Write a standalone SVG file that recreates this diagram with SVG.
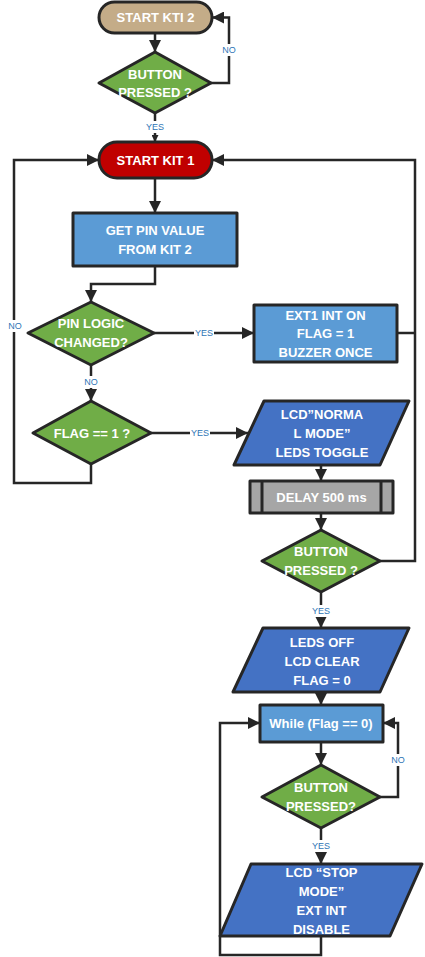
<svg xmlns="http://www.w3.org/2000/svg" width="425" height="957" viewBox="0 0 425 957">
<style>
.shape{stroke:#262626;stroke-width:3;stroke-linejoin:round}
.term{fill:#C4AC88}
.red{fill:#C00000}
.box{fill:#5B9BD5}
.para{fill:#4472C4}
.dia{fill:#70AD47}
.grey{fill:#A6A6A6}
.t{font-family:"Liberation Sans",Arial,sans-serif;font-weight:bold;font-size:13px;fill:#fff;text-anchor:middle}
.conn{fill:none;stroke:#262626;stroke-width:2.5;stroke-linejoin:miter}
.lbl{font-family:"Liberation Sans",Arial,sans-serif;font-size:9px;fill:#2E75B6;text-anchor:middle}
.lblbg{fill:#fff}
</style>
<defs>
<marker id="ah" markerUnits="userSpaceOnUse" markerWidth="12" markerHeight="12" refX="12" refY="6" orient="auto">
<path d="M0,0 L12,6 L0,12 z" fill="#262626"/>
</marker>
<marker id="ahs" markerUnits="userSpaceOnUse" markerWidth="7" markerHeight="7" refX="7" refY="3.5" orient="auto">
<path d="M0,0 L7,3.5 L0,7 z" fill="#262626"/>
</marker>
</defs>
<g id="connectors">
<path class="conn" d="M155,33 V52" marker-end="url(#ah)"/>
<path class="conn" d="M211,83 H229 V17.5 H212" marker-end="url(#ah)"/>
<path class="conn" d="M155,113 V142" marker-end="url(#ahs)"/>
<path class="conn" d="M155,178 V213" marker-end="url(#ah)"/>
<path class="conn" d="M155,266 V284 H91 V302" marker-end="url(#ah)"/>
<path class="conn" d="M154,333 H254" marker-end="url(#ah)"/>
<path class="conn" d="M397,333 H415"/>
<path class="conn" d="M380,561 H415 V160 H212" marker-end="url(#ah)"/>
<path class="conn" d="M91,365 V401" marker-end="url(#ah)"/>
<path class="conn" d="M151,433 H248" marker-end="url(#ah)"/>
<path class="conn" d="M91,464 V483 H14 V160 H99" marker-end="url(#ah)"/>
<path class="conn" d="M321,465 V481" marker-end="url(#ah)"/>
<path class="conn" d="M321,513 V530" marker-end="url(#ah)"/>
<path class="conn" d="M321,592 V628" marker-end="url(#ah)"/>
<path class="conn" d="M321,692 V705" marker-end="url(#ah)"/>
<path class="conn" d="M321,742 V765" marker-end="url(#ah)"/>
<path class="conn" d="M380,797 H398 V723 H383" marker-end="url(#ah)"/>
<path class="conn" d="M321,828 V864" marker-end="url(#ah)"/>
<path class="conn" d="M321,936 V955 H220 V723 H260" marker-end="url(#ah)"/>
<g id="labels">
<rect class="lblbg" x="220" y="44" width="18" height="12"/><text class="lbl" x="229" y="53.3">NO</text>
<rect class="lblbg" x="145" y="121" width="20" height="12"/><text class="lbl" x="155" y="130.3">YES</text>
<rect class="lblbg" x="194" y="327" width="20" height="12"/><text class="lbl" x="204" y="336.3">YES</text>
<rect class="lblbg" x="6" y="320" width="18" height="12"/><text class="lbl" x="15" y="329.3">NO</text>
<rect class="lblbg" x="82" y="376" width="18" height="12"/><text class="lbl" x="91" y="385.3">NO</text>
<rect class="lblbg" x="190" y="427" width="20" height="12"/><text class="lbl" x="200" y="436.3">YES</text>
<rect class="lblbg" x="311" y="605" width="20" height="12"/><text class="lbl" x="321" y="614.3">YES</text>
<rect class="lblbg" x="389" y="754" width="18" height="12"/><text class="lbl" x="398" y="763.3">NO</text>
<rect class="lblbg" x="311" y="840" width="20" height="12"/><text class="lbl" x="321" y="849.3">YES</text>
</g>
</g>
<g id="start-kti2">
<rect class="shape term" x="99" y="2" width="113" height="31" rx="15.5"/>
<text class="t" x="155.5" y="22">START KTI 2</text>
</g>
<g id="button1">
<polygon class="shape dia" points="155,52 211,83 155,113 99,83"/>
<text class="t" x="155" y="78.5">BUTTON</text>
<text class="t" x="155" y="96.5">PRESSED ?</text>
</g>
<g id="start-kit1">
<rect class="shape red" x="99" y="142" width="113" height="36" rx="18"/>
<text class="t" x="155.5" y="164.5">START KIT 1</text>
</g>
<g id="get-pin">
<rect class="shape box" x="73" y="213" width="164" height="53"/>
<text class="t" x="155" y="234.5">GET PIN VALUE</text>
<text class="t" x="155" y="253.5">FROM KIT 2</text>
</g>
<g id="pin-logic">
<polygon class="shape dia" points="91,302 154,333 91,365 28,333"/>
<text class="t" x="91" y="328">PIN LOGIC</text>
<text class="t" x="91" y="347">CHANGED?</text>
</g>
<g id="ext1">
<rect class="shape box" x="254" y="305" width="143" height="57"/>
<text class="t" x="325.5" y="319.5">EXT1 INT ON</text>
<text class="t" x="325.5" y="337.5">FLAG = 1</text>
<text class="t" x="325.5" y="356.5">BUZZER ONCE</text>
</g>
<g id="flag1">
<polygon class="shape dia" points="91,401 151,433 91,464 33,433"/>
<text class="t" x="92" y="437.5">FLAG == 1 ?</text>
</g>
<g id="lcd-normal">
<polygon class="shape para" points="264,401 409,401 380,465 234,465"/>
<text class="t" x="322" y="418.5">LCD”NORMA</text>
<text class="t" x="322" y="437.5">L MODE”</text>
<text class="t" x="322" y="456.5">LEDS TOGGLE</text>
</g>
<g id="delay">
<rect class="shape grey" x="250" y="481" width="143" height="32"/>
<line class="shape" x1="262" y1="481" x2="262" y2="513"/>
<line class="shape" x1="381" y1="481" x2="381" y2="513"/>
<text class="t" x="321.5" y="501.5">DELAY 500 ms</text>
</g>
<g id="button2">
<polygon class="shape dia" points="321,530 380,561 321,592 262,561"/>
<text class="t" x="321" y="556">BUTTON</text>
<text class="t" x="321" y="575">PRESSED ?</text>
</g>
<g id="leds-off">
<polygon class="shape para" points="263,628 409,628 380,692 233,692"/>
<text class="t" x="322" y="646.5">LEDS OFF</text>
<text class="t" x="322" y="665.5">LCD CLEAR</text>
<text class="t" x="322" y="684.5">FLAG = 0</text>
</g>
<g id="while">
<rect class="shape box" x="260" y="705" width="123" height="37"/>
<text class="t" x="321" y="727.5" style="font-weight:bold">While (Flag == 0)</text>
</g>
<g id="button3">
<polygon class="shape dia" points="321,765 380,797 321,828 262,797"/>
<text class="t" x="321" y="791.5">BUTTON</text>
<text class="t" x="321" y="810.5">PRESSED?</text>
</g>
<g id="lcd-stop">
<polygon class="shape para" points="251,864 422,864 390,936 220,936"/>
<text class="t" x="321.5" y="876.5">LCD “STOP</text>
<text class="t" x="321.5" y="895.5">MODE”</text>
<text class="t" x="321.5" y="914.5">EXT INT</text>
<text class="t" x="321.5" y="933.5">DISABLE</text>
</g>
</svg>
